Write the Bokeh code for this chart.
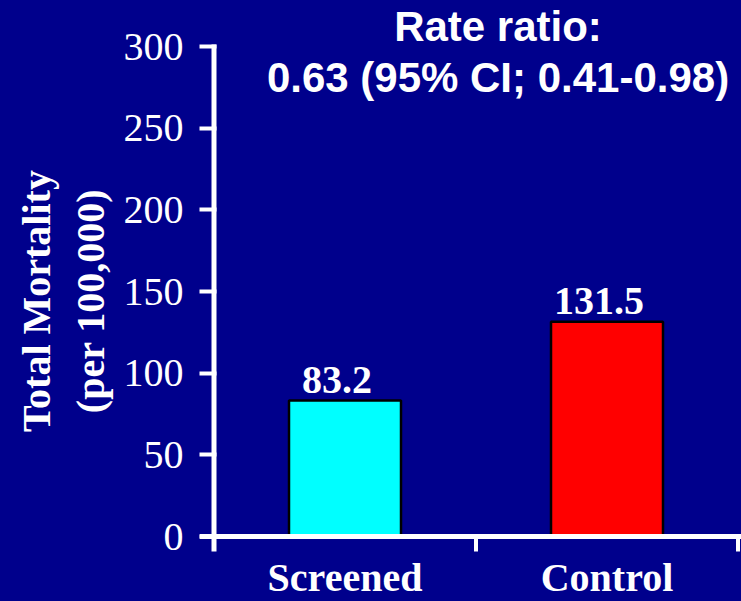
from bokeh.plotting import figure
from bokeh.models import FixedTicker, LinearAxis, Range1d, ColumnDataSource
from bokeh.core.properties import value
from bokeh.embed import file_html
from bokeh.resources import INLINE

# ---- data ----
categories = ["Screened", "Control"]
mortality = [83.2, 131.5]
bar_colors = ["#00FFFF", "#FF0000"]
value_labels = ["83.2", "131.5"]
y_ticks = [0, 50, 100, 150, 200, 250, 300]
title_lines = ["Rate ratio:", "0.63 (95% CI; 0.41-0.98)"]
y_title_lines = ["Total Mortality", "(per 100,000)"]

# ---- layout helpers (pixel geometry) ----
W, H = 741, 601
BG = "#00008C"
FRAME_LEFT = 199
X0_PX = 213.5
PX_PER_X = 262.0
Y0_PX = 536.0
PX_PER_Y = 490.0 / 300.0
BASE_FIX = 13  # svg alphabetic baseline correction (px)


def xd(px):
    return (px - X0_PX) / PX_PER_X


def yd(py):
    return (Y0_PX - py) / PX_PER_Y


x_pos = [i + 0.5 for i in range(len(categories))]

p = figure(width=W, height=H, output_backend="svg", toolbar_location=None,
           x_range=Range1d(xd(FRAME_LEFT), xd(W)), y_range=Range1d(yd(H), yd(0)),
           x_axis_location=None, background_fill_color=BG, border_fill_color=BG,
           min_border_left=FRAME_LEFT, min_border_right=0, min_border_top=0,
           min_border_bottom=0)
p.styles = {"background-color": BG}
p.grid.visible = False
p.outline_line_color = None

SERIF = "Liberation Serif"
SANS = "Liberation Sans"

ya = p.yaxis[0]
ya.ticker = FixedTicker(ticks=y_ticks)
ya.axis_line_color = None
ya.major_tick_in = 17
ya.major_tick_out = 0
ya.major_tick_line_color = "white"
ya.major_tick_line_width = 4
ya.minor_tick_line_color = None
ya.major_label_text_font = SERIF
ya.major_label_text_font_size = "40px"
ya.major_label_text_color = "white"
ya.major_label_standoff = 16
ya.axis_label = y_title_lines[1]
ya.axis_label_text_font = SERIF
ya.axis_label_text_font_style = "bold"
ya.axis_label_text_font_size = "40px"
ya.axis_label_text_color = "white"
ya.axis_label_standoff = 8

oa = LinearAxis(ticker=FixedTicker(ticks=[]), axis_line_color=None,
                major_tick_line_color=None, minor_tick_line_color=None,
                major_tick_out=0, major_tick_in=0, major_label_standoff=0,
                major_label_text_font_size="0px",
                axis_label=y_title_lines[0], axis_label_text_font=SERIF,
                axis_label_text_font_style="bold", axis_label_text_font_size="40px",
                axis_label_text_color="white", axis_label_standoff=6)
p.add_layout(oa, "left")

src = ColumnDataSource(dict(x=x_pos, top=mortality, color=bar_colors,
                            label=value_labels, cat=categories))

p.vbar(x="x", top="top", bottom=0, width=112 / PX_PER_X, fill_color="color",
       line_color="black", line_width=2.5, source=src)

p.text(x="x", y="top", text="label", text_align="center", text_baseline="alphabetic",
       x_offset=-8, y_offset=-8 - BASE_FIX, text_font=value(SERIF), text_font_style="bold",
       text_font_size="40px", text_color="white", source=src)

p.text(x="x", y=0, text="cat", text_align="center", text_baseline="alphabetic",
       y_offset=54 - BASE_FIX, text_font=value(SERIF), text_font_style="bold",
       text_font_size="40px", text_color="white", source=src)

# axis lines
p.segment(x0=[0], y0=[yd(551)], x1=[0], y1=[yd(44)], line_color="white", line_width=5)
p.segment(x0=[xd(FRAME_LEFT)], y0=[0], x1=[xd(W)], y1=[0], line_color="white", line_width=5)
p.segment(x0=[1, 2], y0=[0, 0], x1=[1, 2], y1=[yd(551), yd(551)],
          line_color="white", line_width=4)

# title
p.text(x=[xd(497.5), xd(497.5)], y=[yd(39 - BASE_FIX), yd(90 - BASE_FIX)], text=title_lines,
       text_align="center", text_baseline="alphabetic", text_font=value(SANS),
       text_font_style="bold", text_font_size="42px", text_color="white")

open("out.html", "w").write(file_html(p, INLINE))
